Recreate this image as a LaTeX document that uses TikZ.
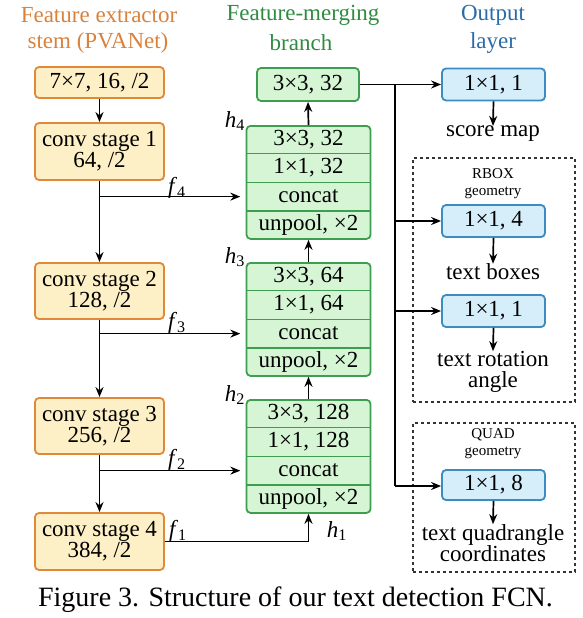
\documentclass[tikz,border=0pt]{standalone}
\usepackage{fontspec}
\setmainfont{Liberation Serif}
\usetikzlibrary{arrows.meta}
\definecolor{orfill}{HTML}{FDEFC6}
\definecolor{ordraw}{HTML}{E0893A}
\definecolor{grfill}{HTML}{D5F5D5}
\definecolor{grdraw}{HTML}{3E9E50}
\definecolor{blfill}{HTML}{D5EEFA}
\definecolor{bldraw}{HTML}{3C8CC0}
\definecolor{ortext}{HTML}{D9823C}
\definecolor{grtext}{HTML}{2E8B40}
\definecolor{bltext}{HTML}{2B6CA8}
\begin{document}
\begin{tikzpicture}[x=1pt,y=-1pt,
  font=\rmfamily\fontsize{23}{21}\selectfont,
  obox/.style={draw=ordraw, fill=orfill, line width=1.8pt, rounded corners=4pt,
    minimum width=129pt, align=center, inner sep=0pt},
  gblock/.style={draw=grdraw, fill=grfill, line width=1.8pt, rounded corners=4pt,
    minimum width=124pt, minimum height=113pt, inner sep=0pt},
  grrow/.style={minimum width=124pt, minimum height=28.25pt, inner sep=0pt},
  gbox/.style={draw=grdraw, fill=grfill, line width=1.8pt, rounded corners=4pt,
    minimum width=102pt, minimum height=33pt, inner sep=0pt},
  bbox/.style={draw=bldraw, fill=blfill, line width=1.8pt, rounded corners=4pt,
    minimum width=103pt, minimum height=32pt, inner sep=0pt},
  dbox/.style={draw=black!80, dashed, line width=1.2pt, minimum width=162pt, inner sep=0pt},
  lbl/.style={inner sep=1pt, align=center},
  small/.style={inner sep=0pt, align=center, font=\rmfamily\fontsize{15}{17}\selectfont},
  arr/.style={-{Stealth[length=10pt,width=8pt]}, line width=1.7pt},
  ln/.style={line width=1.7pt},
  divl/.style={draw=grdraw, line width=1.6pt}]
\useasboundingbox (0,0) rectangle (583,618);

% headers
\node[lbl, text=ortext] (hA1) at (99,15) {Feature extractor};
\node[lbl, text=ortext] (hA2) at (98,43) {stem (PVANet)};
\node[lbl, text=grtext] (hB1) at (303,15) {Feature-merging};
\node[lbl, text=grtext] (hB2) at (301,43) {branch};
\node[lbl, text=bltext] (hC1) at (493,15) {Output};
\node[lbl, text=bltext] (hC2) at (493,43) {layer};

% stem
\node[obox, minimum height=31pt] (s0) at (99.5,82.5) {7×7, 16, /2};
\node[obox, minimum height=57pt] (s1) at (99.5,151.5) {conv stage 1\\64, /2};
\node[obox, minimum height=56pt] (s2) at (99.5,291) {conv stage 2\\128, /2};
\node[obox, minimum height=56pt] (s3) at (99.5,426) {conv stage 3\\256, /2};
\node[obox, minimum height=57pt] (s4) at (99.5,541.5) {conv stage 4\\384, /2};

% merging blocks
\node[gbox] (top) at (308,84.5) {3×3, 32};
\foreach \n/\t/\a/\b in {b4/125/{3×3, 32}/{1×1, 32}, b3/262/{3×3, 64}/{1×1, 64}, b2/399/{3×3, 128}/{1×1, 128}}{
  \node[gblock, anchor=north] (\n) at (308.5,\t) {};
  \node[grrow, anchor=north] (\n r1) at (308.5,\t) {\a};
  \node[grrow, anchor=north] (\n r2) at (\n r1.south) {\b};
  \node[grrow, anchor=north] (\n r3) at (\n r2.south) {concat};
  \node[grrow, anchor=north] (\n r4) at (\n r3.south) {unpool, ×2};
  \draw[divl] (\n r1.south west) -- (\n r1.south east);
  \draw[divl] (\n r2.south west) -- (\n r2.south east);
  \draw[divl] (\n r3.south west) -- (\n r3.south east);
}

% output layer
\node[bbox] (o1) at (493.5,84.5) {1×1, 1};
\node[lbl, inner sep=0pt] (score) at (493,134) {score map};
\node[dbox, minimum height=244pt] (rbox) at (494,280) {};
\node[small] (rb) at (493,184) {RBOX\\geometry};
\node[bbox] (o2) at (493.5,221) {1×1, 4};
\node[lbl, inner sep=0pt] (tboxes) at (493,272) {text boxes};
\node[bbox] (o3) at (493.5,311) {1×1, 1};
\node[lbl, inner sep=0pt] (angle) at (493,372) {text rotation\\angle};
\node[dbox, minimum height=149pt] (qbox) at (494,497.5) {};
\node[small] (qb) at (493,444) {QUAD\\geometry};
\node[bbox, minimum height=30pt] (o4) at (493.5,485) {1×1, 8};
\node[lbl, inner sep=0pt] (quad) at (493,543) {text quadrangle\\coordinates};

% stem arrows
\draw[arr] (s0) -- (s1);
\draw[arr] (s1) -- (s2);
\draw[arr] (s2) -- (s3);
\draw[arr] (s3) -- (s4);
\draw[arr, shorten >=6pt] (s1.south |- b4r3.west) -- (b4r3.west);
\draw[arr, shorten >=6pt] (s2.south |- b3r3.west) -- (b3r3.west);
\draw[arr, shorten >=6pt] (s3.south |- b2r3.west) -- (b2r3.west);
\draw[arr] (s4.east) -| (b2.south);

% merging arrows
\draw[arr] (b2.north) -- (b3.south);
\draw[arr] (b3.north) -- (b4.south);
\draw[arr] (b4.north) -- (top.south);

% output connectors
\coordinate (sp1) at (395,84.5);
\coordinate (sp4) at (395,486);
\draw[arr] (top.east) -- (o1.west);
\draw[ln] (sp1) -- (sp4);
\draw[arr] (o2.west -| sp1) -- (o2.west);
\draw[arr] (o3.west -| sp1) -- (o3.west);
\draw[arr] (sp4) -- (sp4 -| o4.west);
\draw[arr] (o1.south) -- (score.north);
\draw[arr] (o2.south) -- (tboxes.north);
\draw[arr] (o3.south) -- (angle.north);
\draw[arr] (o4.south) -- (quad.north);

% labels
\node[lbl] (f4) at (177,188) {\textit{f}\textsubscript{4}};
\node[lbl] (f3) at (177,323) {\textit{f}\textsubscript{3}};
\node[lbl] (f2) at (177,460) {\textit{f}\textsubscript{2}};
\node[lbl] (f1) at (178,531) {\textit{f}\textsubscript{1}};
\node[lbl] (h4) at (235,121) {\textit{h}\textsubscript{4}};
\node[lbl] (h3) at (235,257) {\textit{h}\textsubscript{3}};
\node[lbl] (h2) at (235,395) {\textit{h}\textsubscript{2}};
\node[lbl] (h1) at (337,531) {\textit{h}\textsubscript{1}};

% caption
\node[lbl, font=\rmfamily\fontsize{28}{30}\selectfont] (cap) at (295.5,600) {Figure 3. Structure of our text detection FCN.};
\end{tikzpicture}
\end{document}
